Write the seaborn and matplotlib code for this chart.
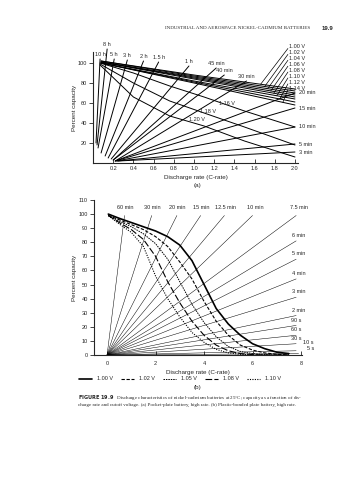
import numpy as np
import pandas as pd
import matplotlib
matplotlib.use("Agg")
import matplotlib.pyplot as plt
from matplotlib.lines import Line2D
import seaborn as sns

# Panel (a) - cutoff-voltage curves (upper fan, nearly straight)
fan_volts = ["1.00 V", "1.02 V", "1.04 V", "1.06 V", "1.08 V", "1.10 V", "1.12 V", "1.14 V"]
fan_x = [0.08, 1.0, 2.0]
fan_y = [
    [102, 88, 74],
    [102, 87, 72],
    [101, 86, 70],
    [101, 85, 68],
    [101, 84, 66],
    [100, 82, 64],
    [100, 81, 61],
    [100, 80, 58],
]
fan_leader_x = [1.66, 1.70, 1.73, 1.76, 1.79, 1.82, 1.85, 1.88]

# Panel (a) - lower voltage curves (bent down)
low_volts = ["1.16 V", "1.18 V", "1.20 V"]
low_x = [0.07, 0.4, 0.76, 1.1, 1.5, 2.0]
low_y = [
    [100, 90, 77, 66, 52, 36],
    [99, 80, 62, 50, 36, 18],
    [98, 66, 47, 37, 22, 6],
]
low_label_x = [1.33, 1.14, 1.03]
low_label_y = [57, 49, 41]

# Panel (a) - constant discharge-time lines
ray_a_labels = ["10 h", "8 h", "5 h", "3 h", "2 h", "1.5 h", "1 h", "45 min", "40 min",
                "30 min", "20 min", "15 min", "10 min", "5 min", "3 min"]
ray_a_x0 = [0.03, 0.04, 0.05, 0.08, 0.12, 0.15, 0.18, 0.2, 0.2, 0.22, 0.22, 0.22, 0.23, 0.24, 0.25]
ray_a_y0 = [20, 18, 15, 10, 7, 5, 4, 3, 3, 2, 2, 2, 2, 2, 2]
ray_a_x1 = [0.07, 0.14, 0.21, 0.34, 0.5, 0.65, 0.95, 1.22, 1.3, 1.52, 2.0, 2.0, 2.0, 2.0, 2.0]
ray_a_y1 = [104, 114, 104, 103, 102, 101, 97, 95, 88, 82, 70, 55, 36, 19, 11]

# Panel (b) - capacity vs rate for five cutoff voltages
volts_b = ["1.00 V", "1.02 V", "1.05 V", "1.08 V", "1.10 V"]
rate_b = [0.05, 0.5, 1, 1.5, 2, 2.5, 3, 3.5, 4, 4.5, 5, 5.5, 6, 6.5, 7, 7.5]
cap_b = [
    [100, 97, 94, 91, 88, 84, 78, 67, 50, 33, 22, 14, 8, 4.5, 2, 1],
    [99, 96, 92.5, 89, 84, 77, 66, 54, 38, 24, 14, 7, 3.5, 1.5, 0.5, 0],
    [99, 95, 91, 86, 79, 68, 52, 36, 23, 13, 6, 2.5, 1, 0.3, 0, 0],
    [99, 94, 89, 82, 70, 52, 37, 24, 14, 7, 3, 1, 0.3, 0, 0, 0],
    [99, 93, 87, 77, 56, 40, 27, 16, 9, 4, 1.5, 0.5, 0, 0, 0, 0],
]

# Panel (b) - constant discharge-time lines
ray_b_labels = ["60 min", "30 min", "20 min", "15 min", "12.5 min", "10 min", "7.5 min",
                "6 min", "5 min", "4 min", "3 min", "2 min", "90 s", "60 s", "30 s", "10 s", "5 s"]
ray_b_x1 = [0.72, 1.84, 2.88, 3.86, 4.84, 6.0, 7.8,
            7.8, 7.8, 7.8, 7.8, 7.8, 7.8, 7.8, 7.8, 7.8, 7.9]
ray_b_y1 = [99, 99, 99, 99, 99, 99, 99,
            81, 68, 54, 41, 28, 21, 14, 8, 3, 1]
ray_b_lx = [0.74, 1.86, 2.9, 3.9, 4.87, 6.1, 7.9,
            7.9, 7.9, 7.9, 7.9, 7.9, 7.8, 7.8, 7.8, 8.3, 8.4]
ray_b_ly = [103, 103, 103, 103, 103, 103, 103,
            83, 70, 56, 43, 30, 23, 16, 10, 7, 3]

sns.set_theme(style="ticks")
plt.rcParams["font.family"] = ["Liberation Sans", "DejaVu Sans"]
plt.rcParams["axes.linewidth"] = 0.8

fig = plt.figure(figsize=(3.57, 4.8), dpi=100)
fs = 4.0
serif = ["Liberation Serif", "DejaVu Serif"]

# ---------- panel (a) ----------
ax = fig.add_axes([93 / 357, 1 - 163 / 480, 205 / 357, 111 / 480])

rows = []
for i, v in enumerate(fan_volts):
    for x, y in zip(fan_x, fan_y[i]):
        rows.append({"curve": "f" + v, "rate": x, "cap": y})
for i, v in enumerate(low_volts):
    for x, y in zip(low_x, low_y[i]):
        rows.append({"curve": "l" + v, "rate": x, "cap": y})
for i, t in enumerate(ray_a_labels):
    rows.append({"curve": "r" + t, "rate": ray_a_x0[i], "cap": ray_a_y0[i]})
    rows.append({"curve": "r" + t, "rate": ray_a_x1[i], "cap": ray_a_y1[i]})
dfa = pd.DataFrame(rows)
sns.lineplot(data=dfa, x="rate", y="cap", units="curve", estimator=None, sort=False,
             color="black", lw=0.7, ax=ax, legend=False)
for l in ax.lines:
    l.set_clip_on(False)

# time labels
for i, t in enumerate(ray_a_labels):
    if ray_a_x1[i] >= 1.99:
        ax.text(ray_a_x1[i] + 0.04, ray_a_y1[i], t, fontsize=fs, va="center", ha="left")
    else:
        ax.text(ray_a_x1[i], ray_a_y1[i] + 2, t, fontsize=fs, va="bottom", ha="center")

# fan voltage labels with leaders
for i, v in enumerate(fan_volts):
    ly = 116 - i * 5.9
    tx = fan_leader_x[i]
    ty = np.interp(tx, fan_x, fan_y[i])
    ax.plot([tx, 1.93], [ty, ly - 1.5], color="black", lw=0.5, clip_on=False)
    ax.text(1.94, ly, v, fontsize=fs, va="center", ha="left")

for i, v in enumerate(low_volts):
    ax.text(low_label_x[i], low_label_y[i], v, fontsize=fs, ha="center", va="bottom")

ax.set_xlim(0, 2.03)
ax.set_ylim(0, 111)
ax.set_xticks([0.2, 0.4, 0.6, 0.8, 1.0, 1.2, 1.4, 1.6, 1.8, 2.0])
ax.set_xticklabels(["0.2", "0.4", "0.6", "0.8", "1.0", "1.2", "1.4", "1.6", "1.8", "2.0"])
ax.set_yticks([20, 40, 60, 80, 100])
ax.tick_params(axis="x", direction="in", length=3, width=0.6, labelsize=fs, pad=2)
ax.tick_params(axis="y", direction="out", length=3, width=0.6, labelsize=fs, pad=1.5)
ax.set_xlabel("Discharge rate (C-rate)", fontsize=fs + 0.5, labelpad=3)
ax.set_ylabel("Percent capacity", fontsize=fs + 0.5, labelpad=0.5)
sns.despine(ax=ax)
fig.text(197 / 357, 1 - 185 / 480, "(a)", fontsize=fs + 0.5, ha="center", va="center")

# ---------- panel (b) ----------
bx = fig.add_axes([94 / 357, 1 - 355 / 480, 208 / 357, 155 / 480])

rows = []
for i, t in enumerate(ray_b_labels):
    rows.append({"ray": t, "rate": 0.0, "cap": 0.0})
    rows.append({"ray": t, "rate": ray_b_x1[i], "cap": ray_b_y1[i]})
dfr = pd.DataFrame(rows)
sns.lineplot(data=dfr, x="rate", y="cap", units="ray", estimator=None, sort=False,
             color="black", lw=0.35, ax=bx, legend=False)
for i, t in enumerate(ray_b_labels):
    bx.text(ray_b_lx[i], ray_b_ly[i], t, fontsize=fs, ha="center", va="bottom")

dfb = pd.DataFrame([
    {"volt": v, "rate": x, "cap": y}
    for i, v in enumerate(volts_b) for x, y in zip(rate_b, cap_b[i])
])
dash_map = {"1.00 V": "", "1.02 V": (3, 1.5), "1.05 V": (1.5, 1),
            "1.08 V": (6, 2), "1.10 V": (1, 1.2)}
width_map = {"1.00 V": 1.2, "1.02 V": 0.8, "1.05 V": 0.7, "1.08 V": 0.8, "1.10 V": 0.8}
sns.lineplot(data=dfb, x="rate", y="cap", hue="volt", style="volt", dashes=dash_map,
             palette=["black"] * 5, ax=bx, legend=False, lw=0.8)
for l, v in zip(bx.lines[-5:], volts_b):
    l.set_linewidth(width_map[v])

bx.set_xlim(-0.54, 8.04)
bx.set_ylim(0, 110)
bx.set_xticks([0, 2, 4, 6, 8])
bx.set_yticks(range(0, 111, 10))
bx.tick_params(axis="x", direction="in", length=3, width=0.6, labelsize=fs, pad=4)
bx.tick_params(axis="y", direction="out", length=3, width=0.6, labelsize=fs, pad=1.5)
bx.set_xlabel("Discharge rate (C-rate)", fontsize=fs + 0.5, labelpad=3)
bx.set_ylabel("Percent capacity", fontsize=fs + 0.5, labelpad=1)
sns.despine(ax=bx)
fig.text(197 / 357, 1 - 387 / 480, "(b)", fontsize=fs + 0.5, ha="center", va="center")

handles = [Line2D([], [], color="black", lw=width_map[v],
                  dashes=dash_map[v] if dash_map[v] else (None, None)) for v in volts_b]
handles[0].set_linestyle("-")
fig.legend(handles, volts_b, loc="center", bbox_to_anchor=(180 / 357, 1 - 379 / 480),
           ncol=5, frameon=False, fontsize=fs, handlelength=2.3, columnspacing=1.6,
           handletextpad=0.8)

# ---------- header and caption ----------
fig.text(310 / 357, 1 - 28 / 480, "INDUSTRIAL AND AEROSPACE NICKEL-CADMIUM BATTERIES",
         fontsize=3.6, family=serif, ha="right", va="center")
fig.text(333 / 357, 1 - 28 / 480, "19.9", fontsize=4.3, weight="bold", ha="right", va="center")
fig.text(78 / 357, 1 - 398 / 480, r"$\bf{FIGURE\ 19.9}$   Discharge characteristics of nickel-cadmium "
         "batteries at 25°C; capacity as a function of dis-", fontsize=3.6, family=serif,
         ha="left", va="center")
fig.text(78 / 357, 1 - 405 / 480, "charge rate and cutoff voltage. (a) Pocket-plate battery, "
         "high rate. (b) Plastic-bonded plate battery, high rate.", fontsize=3.6, family=serif,
         ha="left", va="center")

fig.savefig("out.png", dpi=100)
